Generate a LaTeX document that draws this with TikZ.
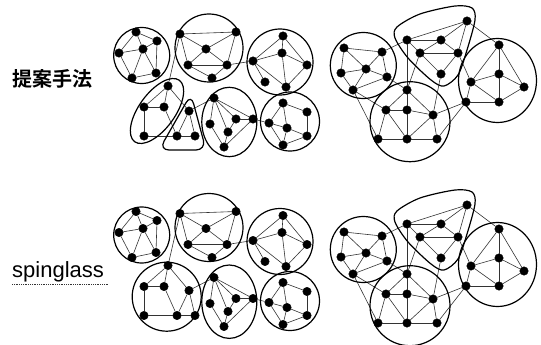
\documentclass[tikz,border=0pt]{standalone}
\usepackage{fontspec}
\setsansfont{Liberation Sans}
\newfontfamily\jpfont{Noto Sans CJK JP}[BoldFont={* Bold}]
\tikzset{
    vertex/.style={
        circle,
        fill=black,
        draw=black,
        inner sep=0pt,
        minimum size=8.5pt
    },
    edge/.style={draw=black!80, line width=0.6pt},
    hull/.style={draw=black, line width=1.2pt},
    rowlabel/.style={anchor=west, inner sep=0pt}
}

\begin{document}
\begin{tikzpicture}[x=1pt, y=-1pt]
            \useasboundingbox (0,0) rectangle (541,345);

            % Labels
            \node (lblProposed) [rowlabel, font=\jpfont\bfseries\fontsize{20}{20}\selectfont] at (12,79) {提案手法};
            \node (lblSpin) [rowlabel, font=\sffamily\fontsize{22}{22}\selectfont] at (12,272) {spinglass};
            \draw [densely dotted, line width=0.8pt, black!80] (lblSpin.south west) ++(0,2) -- ++(97,0);

            % Left graph, both rows
            \foreach \r/\dy in {t/0, b/179.5} {
                \foreach \n/\x/\y in {
                    a1/136/32, a2/157/41, a3/143/49, a4/119/53, a5/156/73, a6/132/78,
                    b1/180/34, b2/236/32, b3/206/49, b4/188/65, b5/227/65, b6/212/78,
                    c1/283/36, c2/282/53, c3/253/61, c4/307/65, c5/265/82, c6/286/87,
                    d1/168/86, d2/144/107, d3/164/107, d4/144/136,
                    e1/189/111, e2/177/136, e3/195/136,
                    f1/214/98, f2/236/119, f3/253/119, f4/210/124, f5/228/132, f6/224/147,
                    g1/283/103, g2/307/112, g3/269/123, g4/287/128, g5/307/136, g6/283/145}
                    \node (\r\n) [vertex] at (\x,\y+\dy) {};

                \foreach \u/\v in {
                    a1/a2, a1/a3, a1/a4, a2/a3, a2/a5, a3/a4, a3/a5, a3/a6, a4/a6, a5/a6,
                    b1/b2, b1/b3, b2/b3, b1/b4, b2/b5, b3/b4, b3/b5, b4/b5, b4/b6, b5/b6,
                    c1/c2, c1/c3, c1/c4, c2/c3, c2/c4, c2/c6, c3/c5, c3/c6, c4/c6,
                    d1/d2, d1/d3, d2/d3, d2/d4, d3/e2, d4/e2, d1/e1,
                    e1/e2, e1/e3, e2/e3,
                    f1/f2, f1/f3, f1/f4, f1/f5, f2/f3, f2/f5, f4/f6, f5/f6, f3/f6,
                    g1/g2, g1/g3, g1/g4, g2/g5, g3/g4, g3/g6, g4/g5, g4/g6, g5/g6,
                    b1/d1, b5/c3, e1/f1, f3/g3}
                    \draw [edge] (\r\u) -- (\r\v);

                % Communities shared by both rows
                \draw [hull] (141.7,55.5+\dy) circle [radius=28];
                \draw [hull] (209,48+\dy) circle [radius=34];
                \draw [hull] (280,62+\dy) circle [radius=33];
                \draw [hull] (290,121.5+\dy) circle [radius=29.5];
            }

            % Communities, top row only
            \draw [hull] (157,111) ellipse [x radius=38, y radius=18, rotate=54];
            \draw [hull, rounded corners=10pt] (191,94) -- (206,150) -- (159,150) -- cycle;
            \draw [hull] (229.3,122) ellipse [x radius=27.5, y radius=34.7];

            % Communities, bottom row only
            \draw [hull] (166.7,296.7) circle [radius=34.5];
            \draw [hull] (229.3,301.7) ellipse [x radius=27.5, y radius=36.7];

            % Right graph, both rows
            \foreach \r/\dy in {t/0, b/184} {
                \foreach \n/\x/\y in {
                    h1/344/48, h2/382/52, h3/366/69, h4/341/73, h5/387/77, h6/353/90,
                    i1/467/21, i2/407/40, i3/441/40, i4/420/53, i5/458/53, i6/441/74,
                    j1/499/45, j2/499/74, j3/471/82, j4/524/87, j5/466/102, j6/499/102,
                    k1/407/90, k2/386/110, k3/407/110, k4/433/115, k5/378/139, k6/407/139, k7/437/139}
                    \node (\r\n) [vertex] at (\x,\y+\dy) {};

                \foreach \u/\v in {
                    h1/h2, h1/h3, h1/h4, h2/h3, h2/h5, h3/h4, h3/h5, h3/h6, h4/h6, h5/h6,
                    i1/i2, i1/i3, i1/i5, i2/i3, i2/i4, i3/i4, i3/i5, i4/i5, i4/i6, i5/i6,
                    j1/j2, j1/j3, j1/j4, j2/j3, j2/j4, j2/j6, j3/j5, j3/j6, j4/j6, j5/j6,
                    k1/k2, k1/k3, k1/k4, k2/k3, k3/k4, k2/k5, k2/k6, k3/k6, k4/k6, k4/k7, k5/k6, k6/k7,
                    h2/i2, h5/k1, h6/k2, h6/k5, i2/k1, i4/k1, i6/k4, i5/j3, i1/j1, j5/k4, j5/k7}
                    \draw [edge] (\r\u) -- (\r\v);

                % Communities
                \draw [hull] (363.3,65.5+\dy) circle [radius=33];
                \draw [hull] plot [smooth cycle] coordinates {
                    (397,27+\dy) (420,14+\dy) (455,6+\dy) (472,8+\dy) (475,20+\dy) (467,50+\dy)
                    (458,75+\dy) (444,86+\dy) (431,80+\dy) (408,58+\dy) (395,38+\dy)};
                \draw [hull] (497.5,80.5+\dy) ellipse [x radius=39, y radius=42];
                \draw [hull] (410,121.7+\dy) circle [radius=40];
            }
\end{tikzpicture}
\end{document}
